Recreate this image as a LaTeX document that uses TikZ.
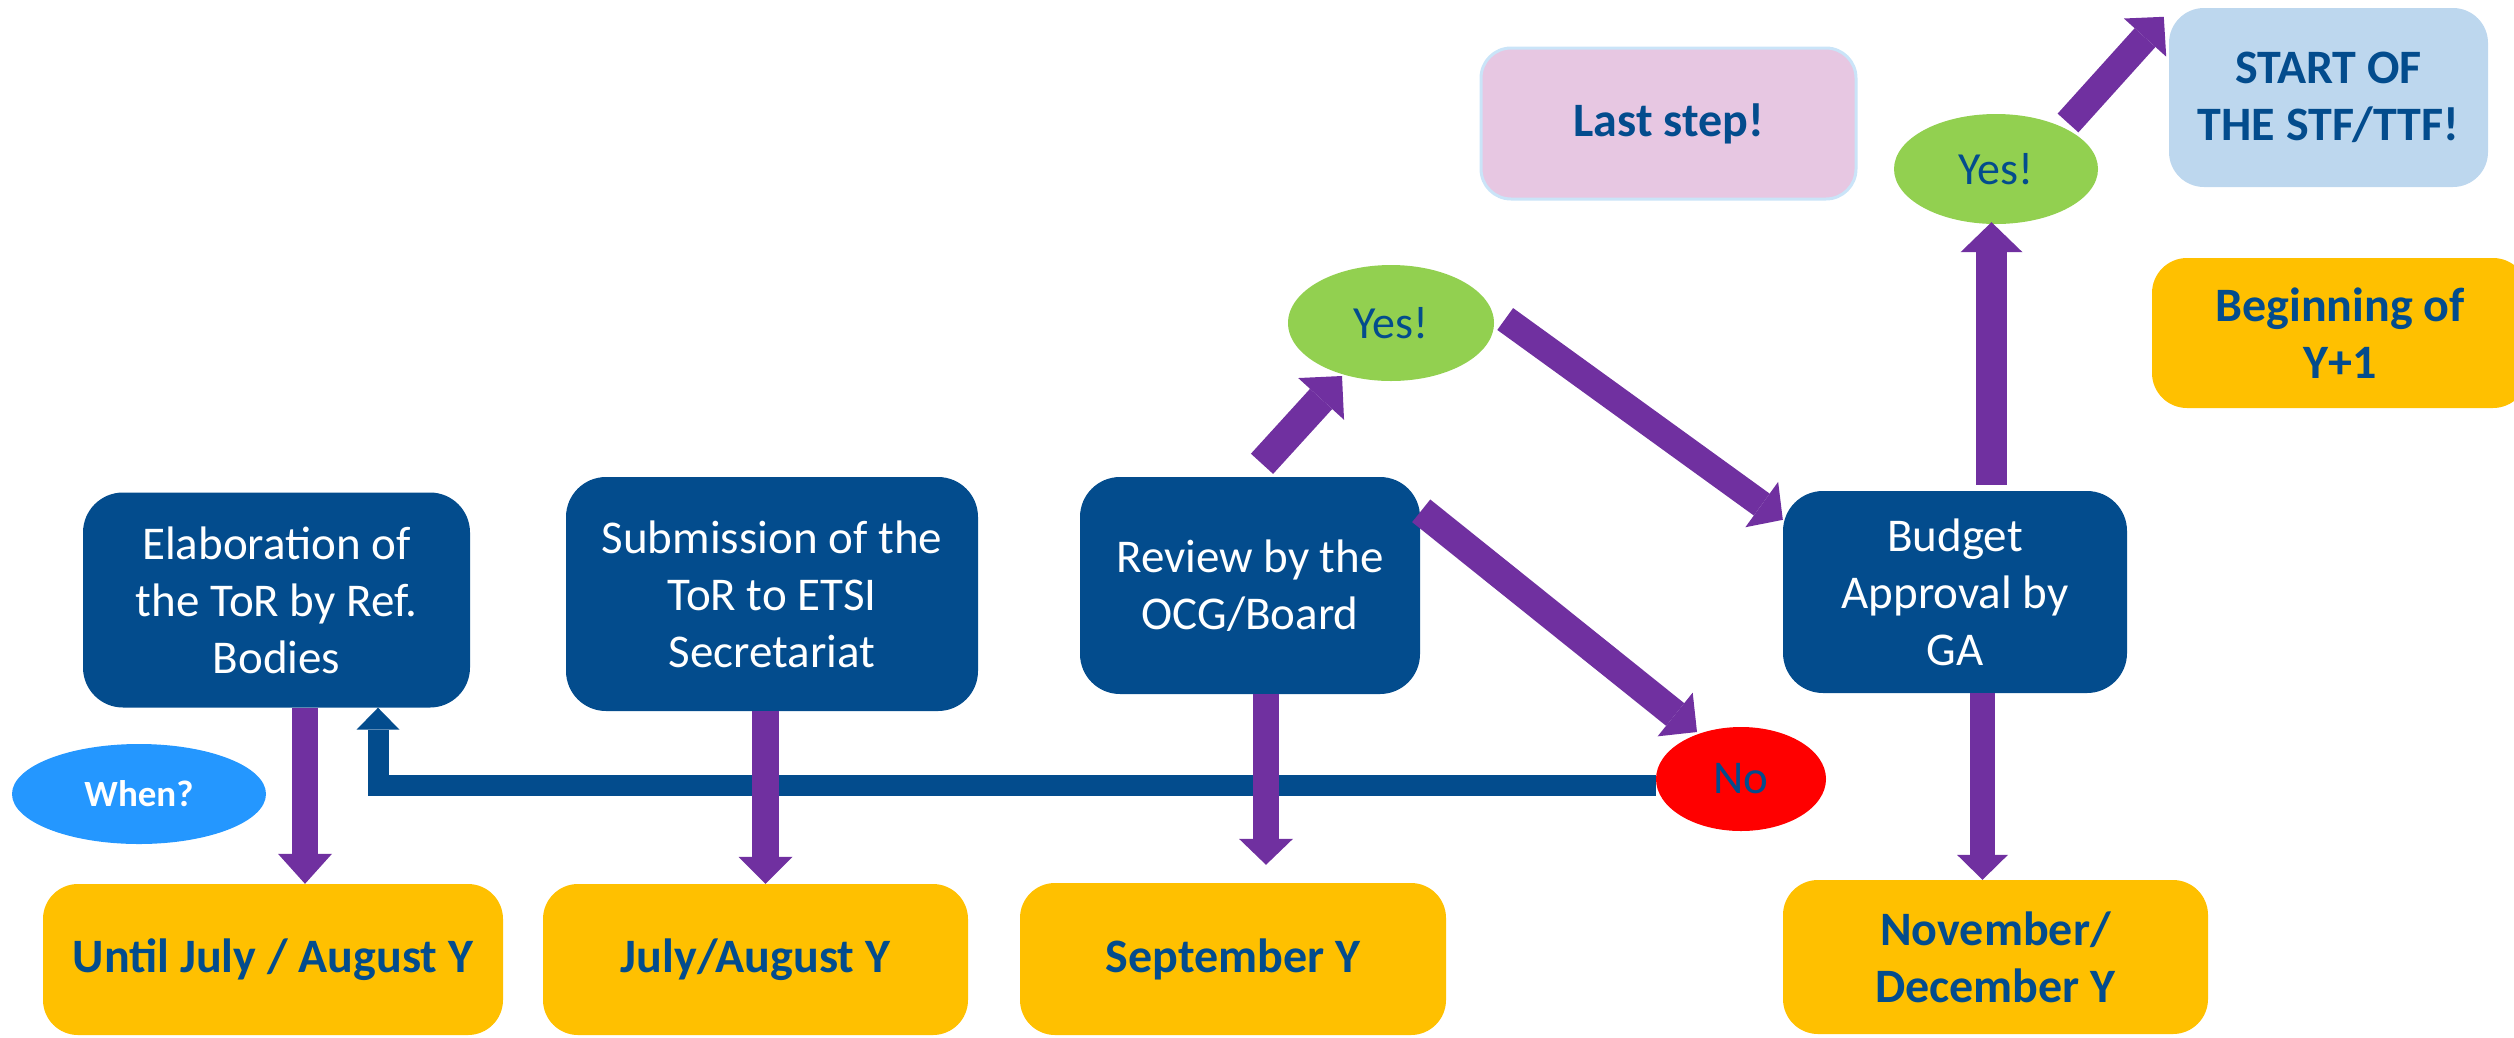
\documentclass[tikz,border=0pt]{standalone}
\usepackage{fontspec}
\setmainfont{Carlito}
\usetikzlibrary{arrows.meta,shapes.geometric}
\definecolor{dblue}{RGB}{3,76,141}
\definecolor{purp}{RGB}{112,48,160}
\definecolor{ylw}{RGB}{255,192,0}
\definecolor{grn}{RGB}{146,208,80}
\definecolor{rd}{RGB}{255,0,0}
\definecolor{whenblue}{RGB}{36,151,255}
\definecolor{lblue}{RGB}{189,215,238}
\definecolor{pink}{RGB}{231,199,226}
\definecolor{pinkedge}{RGB}{202,228,248}
\tikzset{
  box/.style={rectangle, rounded corners=40pt, fill=dblue, text=white, align=center, inner sep=0pt,
    font=\fontsize{47}{57}\selectfont},
  ybox/.style={rectangle, rounded corners=35pt, fill=ylw, text=dblue, align=center, inner sep=0pt,
    font=\bfseries\fontsize{48}{57}\selectfont},
  oval/.style={ellipse, inner sep=0pt, text=dblue, font=\fontsize{46}{56}\selectfont},
  parr/.style n args={3}{draw=purp, line width=#1, line cap=butt,
    -{Triangle[length=#2, width=#3, line width=0pt]}},
  barr/.style={draw=dblue, line width=21pt, line cap=butt, line join=miter,
    -{Triangle[length=22pt, width=43pt, line width=0pt]}}
}
\begin{document}
\begin{tikzpicture}[x=1pt,y=-1pt]
\path[use as bounding box] (0,0) rectangle (2514,1037);
\clip (0,0) rectangle (2514,1037);

% process boxes
\node[box, minimum width=387pt, minimum height=215pt] (b1) at (276.5,600) {Elaboration of\\the ToR by Ref.\\Bodies};
\node[box, minimum width=412pt, minimum height=234pt] (b2) at (772,594) {Submission of the\\ToR to ETSI\\Secretariat};
\node[box, minimum width=340pt, minimum height=217pt] (b3) at (1250,585.5) {Review by the\\OCG/Board};
\node[box, minimum width=344pt, minimum height=202pt] (b4) at (1955,592) {Budget\\Approval by\\GA};

% time boxes
\node[ybox, minimum width=460pt, minimum height=151pt] (y1) at (273,959.5) {Until July / August Y};
\node[ybox, minimum width=425pt, minimum height=151pt] (y2) at (755.5,959.5) {July/August Y};
\node[ybox, minimum width=426pt, minimum height=152pt] (y3) at (1233,959) {September Y};
\node[ybox, minimum width=425pt, minimum height=154pt] (y4) at (1995.5,957) {November/\\December Y};
\node[ybox, minimum width=376pt, minimum height=150pt] (beg) at (2340,333) {Beginning of\\Y+1};

% top boxes
\node[ybox, fill=lblue, minimum width=319pt, minimum height=179pt] (start) at (2328.5,97.5) {START OF\\THE STF/TTF!};
\node[ybox, fill=pink, draw=pinkedge, line width=3pt, rounded corners=30pt, minimum width=375pt, minimum height=151pt] (last) at (1668.5,123.5) {Last step!};

% ovals
\node[oval, fill=whenblue, text=white, font=\bfseries\fontsize{37}{44}\selectfont, minimum width=254pt, minimum height=100pt] (when) at (139,794) {When?};
\node[oval, fill=grn, minimum width=206pt, minimum height=116pt] (yes1) at (1391,323) {Yes!};
\node[oval, fill=grn, minimum width=204pt, minimum height=110pt] (yes2) at (1996,169) {Yes!};
\node[oval, fill=rd, font=\fontsize{47}{56}\selectfont, minimum width=170pt, minimum height=104pt] (no) at (1741,779) {No};

% return connector
\draw[barr] ([yshift=-6pt]no.west) -| ([xshift=101.5pt]b1.south);

% purple arrows
\draw[parr={26pt}{30pt}{54pt}] ([xshift=28.5pt]b1.south) -- ([xshift=32pt]y1.north);
\draw[parr={27pt}{27pt}{54pt}] ([xshift=-6.5pt]b2.south) -- ([xshift=10pt]y2.north);
\draw[parr={26.5pt}{26pt}{54pt}] ([xshift=16pt]b3.south) -- ([xshift=33pt,yshift=18pt]y3.north);
\draw[parr={25pt}{25pt}{51pt}] ([xshift=27.5pt]b4.south) -- ([xshift=-13pt]y4.north);
\draw[parr={31pt}{30pt}{62pt}] ([xshift=36.5pt,yshift=6pt]b4.north) -- ([xshift=-4.5pt,yshift=2pt]yes2.south);
\draw[parr={30pt}{31pt}{62pt}] ([xshift=12pt,yshift=13pt]b3.north) -- ([xshift=-49pt,yshift=-53pt]yes1.center);
\draw[parr={27pt}{26pt}{56pt}] ([xshift=11pt,yshift=4pt]yes1.east) -- ([yshift=-29pt]b4.north west);
\draw[parr={29pt}{28pt}{56pt}] ([xshift=1pt,yshift=-34pt]b3.north east) -- ([xshift=-44pt,yshift=47pt]no.center);
\draw[parr={28pt}{28pt}{57pt}] ([xshift=72pt,yshift=46pt]yes2.center) -- ([xshift=-5pt,yshift=-9pt]start.north west);
\end{tikzpicture}
\end{document}
